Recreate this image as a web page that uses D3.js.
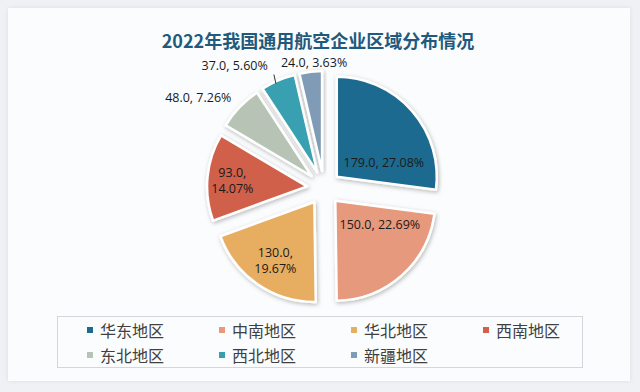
<!DOCTYPE html>
<html><head><meta charset="utf-8">
<script src="https://cdn.jsdelivr.net/npm/d3@7"></script>
<style>
html,body{margin:0;padding:0;background:#eff1f4;}
svg{display:block;}
</style></head>
<body><svg id="c" width="640" height="392"></svg>
<script>
const title = "2022年我国通用航空企业区域分布情况";
const categories = ["华东地区","中南地区","华北地区","西南地区","东北地区","西北地区","新疆地区"];
const values = [179, 150, 130, 93, 48, 37, 24];
const percents = ["27.08%","22.69%","19.67%","14.07%","7.26%","5.60%","3.63%"];
const colors = ["#1d6a8f","#e6997b","#e7ae62","#d0604a","#b7c3b5","#37a0b0","#7f9bb5"];

// layout (not data)
const cx = 324, cy = 188, R = 100, explode = 17;
// label placement: [angle deg clockwise from top, radius from pie centre, split into two lines]
const labelLayout = [[67,65,false],[123.5,67,false],[214,87,true],[275,92,true],[305.8,155,false],[324,152,false],[355.5,126,false]];

const svg = d3.select("#c");
const defs = svg.append("defs");
const f = defs.append("filter").attr("id","sh").attr("x","-20%").attr("y","-20%").attr("width","140%").attr("height","140%");
f.append("feDropShadow").attr("dx",1).attr("dy",1.5).attr("stdDeviation",2).attr("flood-color","#000").attr("flood-opacity",0.28);
const f2 = defs.append("filter").attr("id","card").attr("x","-5%").attr("y","-5%").attr("width","110%").attr("height","110%");
f2.append("feDropShadow").attr("dx",0).attr("dy",0).attr("stdDeviation",2).attr("flood-color","#000").attr("flood-opacity",0.08);

svg.append("rect").attr("x",8).attr("y",8).attr("width",622).attr("height",373)
  .attr("fill","#fbfcfd").attr("filter","url(#card)");

svg.append("text").attr("x",318).attr("y",40).attr("text-anchor","middle").attr("dominant-baseline","central")
  .attr("font-family","'Noto Sans CJK SC','Noto Sans',sans-serif").attr("font-weight","bold")
  .attr("font-size",18).attr("fill","#1f5a7c").text(title);

const pie = d3.pie().sort(null).value(d=>d)(values);
const arc = d3.arc().innerRadius(0).outerRadius(R);
const g = svg.append("g").attr("transform",`translate(${cx},${cy})`);

const slices = g.selectAll("g.s").data(pie).enter().append("g").attr("class","s")
  .attr("transform",d=>{const m=(d.startAngle+d.endAngle)/2; return `translate(${explode*Math.sin(m)},${-explode*Math.cos(m)})`;});
slices.append("path").attr("d",arc).attr("fill",(d,i)=>colors[i])
  .attr("stroke","#ffffff").attr("stroke-width",2.5).attr("stroke-linejoin","round").attr("filter","url(#sh)");

const lab = svg.append("g").attr("font-family","'Open Sans','Noto Sans',sans-serif").attr("font-size",12.5).attr("fill","#1a1a1a");
pie.forEach((d,i)=>{
  const [ang, r, two] = labelLayout[i];
  const a = ang*Math.PI/180;
  const x = cx + r*Math.sin(a), y = cy - r*Math.cos(a);
  const v = d3.format(".1f")(values[i]);
  const t = lab.append("text").attr("x",x).attr("y",y).attr("text-anchor","middle").attr("dominant-baseline","central");
  if(two){
    t.append("tspan").attr("x",x).attr("dy","-0.66em").text(v+",");
    t.append("tspan").attr("x",x).attr("dy","1.32em").text(percents[i]);
  } else {
    t.text(v+", "+percents[i]);
  }
});
// leader line for small slice (西北)
{
  const d = pie[5];
  const m = (d.startAngle+d.endAngle)/2;
  const ox = cx + explode*Math.sin(m), oy = cy - explode*Math.cos(m);
  const a2 = 335*Math.PI/180;
  const x1 = ox + (R-2)*Math.sin(a2), y1 = oy - (R-2)*Math.cos(a2);
  svg.append("line").attr("x1",x1).attr("y1",y1).attr("x2",x1-2).attr("y2",y1-9)
    .attr("stroke","#333").attr("stroke-width",1);
}

// legend
const lg = svg.append("g");
lg.append("rect").attr("x",57.5).attr("y",316.5).attr("width",525).attr("height",51)
  .attr("fill","none").attr("stroke","#d4d6d9").attr("stroke-width",1);
categories.forEach((c,i)=>{
  const col = i%4, row = Math.floor(i/4);
  const x = 90 + col*132, y = 330 + row*25;
  lg.append("rect").attr("x",x-3).attr("y",y-3).attr("width",6).attr("height",6).attr("fill",colors[i]);
  lg.append("text").attr("x",x+10).attr("y",y).attr("dominant-baseline","central")
    .attr("font-family","'Noto Sans CJK SC',sans-serif").attr("font-size",16).attr("fill","#404040").text(c);
});
</script></body></html>
